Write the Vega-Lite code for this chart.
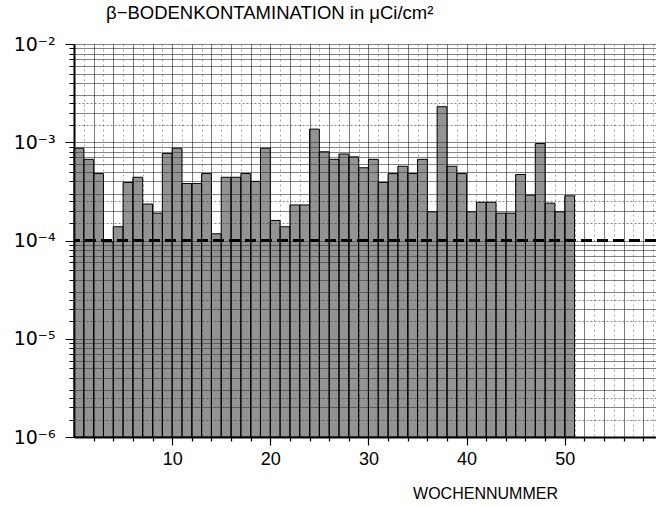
{
  "$schema": "https://vega.github.io/schema/vega-lite/v6.json",
  "width": 582,
  "height": 393,
  "autosize": {"type": "none"},
  "padding": {"left": 74, "top": 44, "right": 0, "bottom": 70},
  "background": "white",
  "config": {"view": {"stroke": null}, "font": "Liberation Sans"},
  "title": {"text": "β−BODENKONTAMINATION in μCi/cm²", "anchor": "start", "frame": "group", "dx": 32, "offset": 13, "fontSize": 18.5, "fontWeight": "normal", "font": "Liberation Sans", "color": "black"},
  "data": {"values": [
    {"week": 1, "value": 0.00087}, {"week": 2, "value": 0.00067}, {"week": 3, "value": 0.00048},
    {"week": 4, "value": 0.000097}, {"week": 5, "value": 0.000138}, {"week": 6, "value": 0.00039},
    {"week": 7, "value": 0.00044}, {"week": 8, "value": 0.000235}, {"week": 9, "value": 0.00019},
    {"week": 10, "value": 0.00077}, {"week": 11, "value": 0.00087}, {"week": 12, "value": 0.00038},
    {"week": 13, "value": 0.00038}, {"week": 14, "value": 0.00048}, {"week": 15, "value": 0.000117},
    {"week": 16, "value": 0.00044}, {"week": 17, "value": 0.00044}, {"week": 18, "value": 0.00048},
    {"week": 19, "value": 0.0004}, {"week": 20, "value": 0.00087}, {"week": 21, "value": 0.00016},
    {"week": 22, "value": 0.000138}, {"week": 23, "value": 0.00023}, {"week": 24, "value": 0.00023},
    {"week": 25, "value": 0.00136}, {"week": 26, "value": 0.0008}, {"week": 27, "value": 0.00067},
    {"week": 28, "value": 0.00076}, {"week": 29, "value": 0.00071}, {"week": 30, "value": 0.00055},
    {"week": 31, "value": 0.00067}, {"week": 32, "value": 0.00039}, {"week": 33, "value": 0.00048},
    {"week": 34, "value": 0.00057}, {"week": 35, "value": 0.00048}, {"week": 36, "value": 0.00067},
    {"week": 37, "value": 0.000196}, {"week": 38, "value": 0.0023}, {"week": 39, "value": 0.00057},
    {"week": 40, "value": 0.00048}, {"week": 41, "value": 0.000196}, {"week": 42, "value": 0.000245},
    {"week": 43, "value": 0.000245}, {"week": 44, "value": 0.00019}, {"week": 45, "value": 0.00019},
    {"week": 46, "value": 0.00047}, {"week": 47, "value": 0.00029}, {"week": 48, "value": 0.00097},
    {"week": 49, "value": 0.00024}, {"week": 50, "value": 0.000196}, {"week": 51, "value": 0.000285}
  ]},
  "layer": [
    {
      "mark": {"type": "rect", "fill": "#3a3a3a", "fillOpacity": 0.55, "stroke": "black", "strokeWidth": 1},
      "transform": [{"calculate": "datum.week - 1", "as": "start"}],
      "encoding": {
        "x": {
          "field": "start", "type": "quantitative",
          "scale": {"domain": [0, 59.3], "nice": false, "zero": false},
          "axis": {
            "values": [1,2,3,4,5,6,7,8,9,10,11,12,13,14,15,16,17,18,19,20,21,22,23,24,25,26,27,28,29,30,31,32,33,34,35,36,37,38,39,40,41,42,43,44,45,46,47,48,49,50,51,52,53,54,55,56,57,58,59],
            "labelExpr": "datum.value % 10 == 0 && datum.value <= 50 ? datum.label : ''",
            "labelOverlap": false,
            "labelBound": false,
            "labelFontSize": 18,
            "labelColor": "black",
            "labelPadding": 5,
            "tickColor": {"condition": {"test": "datum.value % 2 == 0", "value": "black"}, "value": "transparent"},
            "tickSize": {"condition": {"test": "datum.value % 10 == 0", "value": 8}, "value": 4},
            "tickWidth": 1.2,
            "domainColor": "black",
            "domainWidth": 2,
            "grid": true,
            "gridColor": "#222222",
            "gridOpacity": {"condition": {"test": "datum.value % 2 == 0", "value": 0.75}, "value": 0.5},
            "gridDash": {"condition": {"test": "datum.value % 2 == 0", "value": []}, "value": [2, 3]},
            "gridWidth": 0.8,
            "title": "WOCHENNUMMER",
            "titleFontSize": 16,
            "titleFontWeight": "normal",
            "titleColor": "black",
            "titleX": 411,
            "titleY": 56,
            "titleAlign": "center",
            "titleBaseline": "middle"
          }
        },
        "x2": {"field": "week"},
        "y": {
          "field": "value", "type": "quantitative",
          "scale": {"type": "log", "domain": [0.000001, 0.01], "nice": false},
          "axis": {
            "values": [1e-6,1.5e-6,2e-6,2.5e-6,3e-6,4e-6,5e-6,6e-6,7e-6,8e-6,9e-6,
                       1e-5,1.5e-5,2e-5,2.5e-5,3e-5,4e-5,5e-5,6e-5,7e-5,8e-5,9e-5,
                       1e-4,1.5e-4,2e-4,2.5e-4,3e-4,4e-4,5e-4,6e-4,7e-4,8e-4,9e-4,
                       1e-3,1.5e-3,2e-3,2.5e-3,3e-3,4e-3,5e-3,6e-3,7e-3,8e-3,9e-3,1e-2],
            "labelExpr": "datum.value == 0.01 ? '10⁻²' : datum.value == 0.001 ? '10⁻³' : datum.value == 0.0001 ? '10⁻⁴' : datum.value == 0.00001 ? '10⁻⁵' : datum.value == 0.000001 ? '10⁻⁶' : ''",
            "labelOverlap": false,
            "labelBound": false,
            "labelFontSize": 19,
            "labelFont": "DejaVu Sans",
            "labelColor": "black",
            "labelPadding": 10,
            "tickColor": "black",
            "tickSize": {"condition": {"test": "datum.value == 0.01 || datum.value == 0.001 || datum.value == 0.0001 || datum.value == 0.00001 || datum.value == 0.000001", "value": 9}, "value": 5},
            "tickWidth": 1,
            "domainColor": "black",
            "domainWidth": 2,
            "grid": true,
            "gridColor": "#222222",
            "gridOpacity": 0.7,
            "gridDash": {"condition": {"test": "datum.value == 1.5e-6 || datum.value == 2.5e-6 || datum.value == 1.5e-5 || datum.value == 2.5e-5 || datum.value == 1.5e-4 || datum.value == 2.5e-4 || datum.value == 1.5e-3 || datum.value == 2.5e-3", "value": [2, 2]}, "value": []},
            "gridWidth": 0.8,
            "title": null
          }
        },
        "y2": {"datum": 0.000001}
      }
    },
    {
      "mark": {"type": "rule", "strokeDash": [11, 5], "strokeWidth": 2.5, "color": "black"},
      "encoding": {"y": {"datum": 0.0001, "type": "quantitative"}}
    }
  ]
}
